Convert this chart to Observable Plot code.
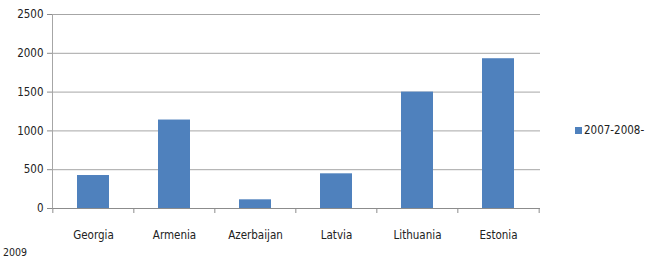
<!DOCTYPE html>
<html>
<head>
<meta charset="utf-8">
<script src="https://cdn.jsdelivr.net/npm/d3@7"></script>
<script src="https://cdn.jsdelivr.net/npm/@observablehq/plot@0.6"></script>
<style>
  body { margin: 0; background: #fff; }
  #wrap { position: relative; width: 654px; height: 260px; font-family: "DejaVu Sans Condensed", "Liberation Sans", sans-serif; }
  #legend { position: absolute; left: 575px; top: 123px; font-size: 11.5px; color: #222; display: flex; align-items: center; }
  #legend span.sw { display: inline-block; width: 7px; height: 7px; background: #4F81BD; margin-right: 2px; }
  #note { position: absolute; left: 3px; top: 246px; font-size: 10.5px; color: #222; }
</style>
</head>
<body>
<div id="wrap">
  <div id="chart"></div>
  <div id="legend"><span class="sw"></span><span id="legendText"></span></div>
  <div id="note"></div>
</div>
<script>
const countries = ["Georgia", "Armenia", "Azerbaijan", "Latvia", "Lithuania", "Estonia"];
const values = [425, 1140, 112, 447, 1500, 1930];
const yTicks = [0, 500, 1000, 1500, 2000, 2500];
const seriesName = "2007-2008-";
const noteText = "2009";

const data = countries.map((c, i) => ({country: c, value: values[i]}));
const W = 654, H = 260, ML = 52, MR = 114, MT = 14, MB = 52;
const half = (W - ML - MR) / countries.length / 2;
const yMax = yTicks[yTicks.length - 1];
const tickLen = 5 * yMax / (H - MT - MB); // 5px in data units

const chart = Plot.plot({
  width: W,
  height: H,
  marginLeft: ML,
  marginRight: MR,
  marginTop: MT,
  marginBottom: MB,
  style: { fontFamily: '"DejaVu Sans Condensed", "Liberation Sans", sans-serif', fontSize: "11.5px", color: "#222", background: "#fff" },
  x: { domain: countries, paddingInner: 0.6, paddingOuter: 0.3, label: null },
  y: { domain: [0, yMax], label: null },
  marks: [
    Plot.gridY(yTicks, { stroke: "#a6a6a6", strokeOpacity: 1 }),
    Plot.barY(data, { x: "country", y: "value", fill: "#4F81BD" }),
    Plot.ruleY([0], { stroke: "#8c8c8c" }),
    Plot.axisX({ tickSize: 0, tickPadding: 22 }),
    Plot.axisY(yTicks, { tickSize: 5, tickPadding: 4, stroke: "#8c8c8c", tickFormat: d => String(d) }),
    Plot.frame({ anchor: "left", stroke: "#a6a6a6" }),
    Plot.ruleX(countries, { x: d => d, y1: 0, y2: -tickLen, dx: -half, stroke: "#8c8c8c" }),
    Plot.ruleX([countries[countries.length - 1]], { x: d => d, y1: 0, y2: -tickLen, dx: half, stroke: "#8c8c8c" })
  ]
});
document.getElementById("chart").appendChild(chart);
document.getElementById("legendText").textContent = seriesName;
document.getElementById("note").textContent = noteText;
</script>
</body>
</html>
